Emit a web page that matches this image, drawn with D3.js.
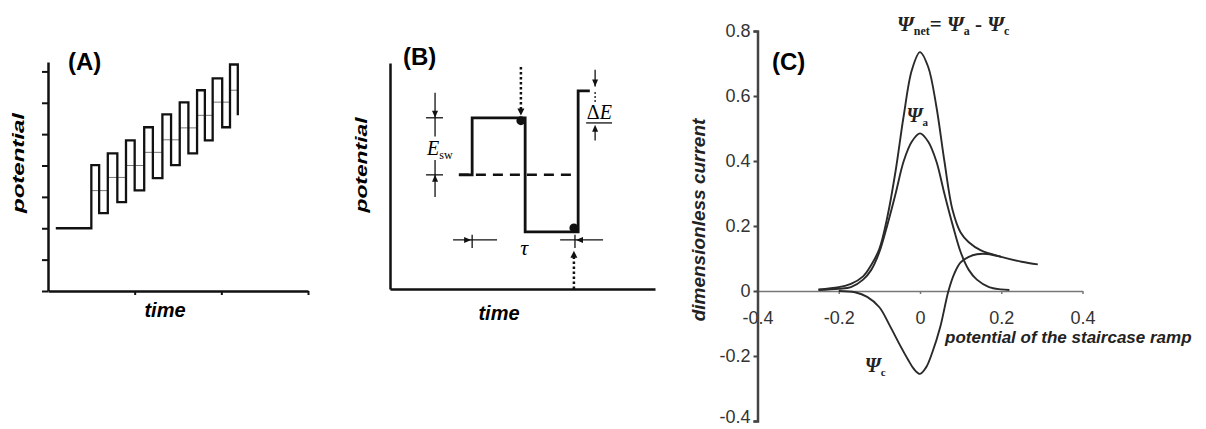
<!DOCTYPE html>
<html><head><meta charset="utf-8">
<script src="https://cdn.jsdelivr.net/npm/d3@7"></script>
<style>body{margin:0;background:#fff} svg{display:block}</style>
</head><body><svg id="c" width="1206" height="429"></svg>
<script>
// ---------------- Panel A data (time units, potential units)
const aTicksY = [0,1,2,3,4,5,6,7];
const aTicksX = [1,2,3];
const aStartTime = 0.09;
const aBaseLevel = 2;
const aRise   = [0.50, 0.69, 0.90, 1.11, 1.32, 1.52, 1.72, 1.90, 2.10];
const aFall   = [0.59, 0.80, 1.00, 1.21, 1.42, 1.62, 1.81, 2.01, 2.19];
const aTop    = [4.01, 4.39, 4.80, 5.22, 5.63, 6.01, 6.40, 6.78, 7.22];
const aBottom = [2.48, 2.83, 3.21, 3.60, 4.01, 4.39, 4.80, 5.22, 5.60];
const aStair  = [3.20, 3.62, 4.00, 4.42, 4.82, 5.20, 5.60, 6.02, 6.40];

// ---------------- Panel B data (time in half-periods, potential in Esw units)
const bTime = [1.30, 1.55, 1.55, 2.55, 2.55, 3.55, 3.55, 3.77];
const bPot  = [2, 2, 3, 3, 1, 1, 3.47, 3.47];
const bDashTime = [1.30, 3.55];
const bDashLevel = 2;
const bSampleTime = [2.47, 3.47];
const bSamplePot  = [2.95, 1.07];
const bArrowFrom  = [3.89, 0.0];
const bArrowTip   = [3.04, 0.67];

// ---------------- Panel C data
const cTicksY = [-0.4,-0.2,0,0.2,0.4,0.6,0.8];
const cTicksX = [-0.4,-0.2,0,0.2,0.4];
const netX = [-0.25,-0.2,-0.17,-0.14,-0.12,-0.1,-0.08,-0.06,-0.04,-0.02,0,0.02,0.04,0.06,0.08,0.1,0.12,0.15,0.2,0.25,0.29];
const netY = [0.005,0.012,0.022,0.045,0.08,0.13,0.23,0.37,0.54,0.68,0.735,0.69,0.57,0.40,0.25,0.18,0.15,0.125,0.105,0.09,0.082];
const psiAX = [-0.25,-0.2,-0.17,-0.14,-0.12,-0.1,-0.08,-0.06,-0.04,-0.02,0,0.02,0.04,0.06,0.08,0.1,0.12,0.14,0.17,0.2,0.22];
const psiAY = [0.003,0.007,0.012,0.035,0.065,0.12,0.205,0.3,0.4,0.46,0.485,0.46,0.4,0.3,0.205,0.12,0.065,0.035,0.012,0.005,0.003];
const psiCX = [-0.2,-0.16,-0.13,-0.1,-0.075,-0.05,-0.03,-0.015,0,0.015,0.03,0.05,0.07,0.085,0.1,0.12,0.14,0.165,0.2];
const psiCY = [0,-0.004,-0.018,-0.05,-0.105,-0.165,-0.21,-0.24,-0.255,-0.235,-0.19,-0.11,0,0.055,0.088,0.105,0.113,0.114,0.105];

const svg = d3.select("#c");
svg.append("rect").attr("width",1206).attr("height",429).attr("fill","#fff");
const SANS = "Liberation Sans, Arial, sans-serif";
const SERIF = "Liberation Serif, Times New Roman, serif";

function tri(g, x, y, dir, len=7, w=3){
  let p;
  if(dir==="down") p=[[x,y],[x-w,y-len],[x+w,y-len]];
  else if(dir==="up") p=[[x,y],[x-w,y+len],[x+w,y+len]];
  else if(dir==="right") p=[[x,y],[x-len,y-w],[x-len,y+w]];
  else p=[[x,y],[x+len,y-w],[x+len,y+w]];
  g.append("path").attr("d","M"+p.map(d=>d.join(",")).join("L")+"Z").attr("fill","#111");
}
function styleAxis(g, w, col){
  g.select(".domain").attr("stroke",col).attr("stroke-width",w);
  g.selectAll(".tick line").attr("stroke",col).attr("stroke-width",Math.max(1.5,w-0.5));
}

// ================= Panel A
const xA = d3.scaleLinear().domain([0,3]).range([48,308]);
const yA = d3.scaleLinear().domain([0,7.3]).range([291,62]);
const gA = svg.append("g");
const axAy = gA.append("g").attr("transform",`translate(${xA(0)},0)`)
  .call(d3.axisLeft(yA).tickValues(aTicksY).tickFormat("").tickSize(6).tickSizeOuter(0));
styleAxis(axAy, 2.5, "#111");
const axAx = gA.append("g").attr("transform",`translate(0,${yA(0)})`)
  .call(d3.axisBottom(xA).tickValues(aTicksX).tickFormat("").tickSize(4).tickSizeOuter(0));
styleAxis(axAx, 2.5, "#111");
aStair.forEach((lev,i)=>{
  const x2 = i<aStair.length-1 ? aRise[i+1] : aFall[i];
  gA.append("line").attr("x1",xA(aRise[i])).attr("x2",xA(x2))
    .attr("y1",yA(lev)).attr("y2",yA(lev)).attr("stroke","#777").attr("stroke-width",1);
});
const aPts = [[aStartTime,aBaseLevel],[aRise[0],aBaseLevel]];
aRise.forEach((r,i)=>{
  aPts.push([r,aTop[i]],[aFall[i],aTop[i]],[aFall[i],aBottom[i]]);
  if(i<aRise.length-1) aPts.push([aRise[i+1],aBottom[i]]);
});
gA.append("path").attr("d",d3.line().x(d=>xA(d[0])).y(d=>yA(d[1]))(aPts))
  .attr("fill","none").attr("stroke","#111").attr("stroke-width",2.3);
gA.append("text").attr("x",68).attr("y",70).attr("font-family",SANS).attr("font-weight","bold")
  .attr("font-size",24).text("(A)");
gA.append("text").attr("x",165).attr("y",317).attr("text-anchor","middle").attr("font-family",SANS)
  .attr("font-weight","bold").attr("font-style","italic").attr("font-size",20).text("time");
gA.append("text").attr("transform","translate(24,163) rotate(-90)").attr("text-anchor","middle")
  .attr("font-family",SANS).attr("font-weight","bold").attr("font-style","italic").attr("font-size",17)
  .attr("textLength",100).attr("lengthAdjust","spacingAndGlyphs").text("potential");

// ================= Panel B
const xB = d3.scaleLinear().domain([0,5]).range([390,655]);
const yB = d3.scaleLinear().domain([0,3.96]).range([289,63]);
const gB = svg.append("g");
const axBy = gB.append("g").attr("transform",`translate(${xB(0)},0)`)
  .call(d3.axisLeft(yB).tickValues([]).tickSizeOuter(0));
styleAxis(axBy, 2.5, "#111");
const axBx = gB.append("g").attr("transform",`translate(0,${yB(0)})`)
  .call(d3.axisBottom(xB).tickValues([]).tickSizeOuter(0));
styleAxis(axBx, 2.5, "#111");
gB.append("line").attr("x1",xB(bDashTime[0])).attr("x2",xB(bDashTime[1]))
  .attr("y1",yB(bDashLevel)).attr("y2",yB(bDashLevel))
  .attr("stroke","#111").attr("stroke-width",2.5).attr("stroke-dasharray","10,7");
gB.append("path").attr("d",d3.line().x((d,i)=>xB(bTime[i])).y((d,i)=>yB(bPot[i]))(bTime))
  .attr("fill","none").attr("stroke","#111").attr("stroke-width",2.8);
bSampleTime.forEach((t,i)=>{
  gB.append("circle").attr("cx",xB(t)).attr("cy",yB(bSamplePot[i])).attr("r",4.5).attr("fill","#111");
  gB.append("line").attr("x1",xB(t)).attr("x2",xB(t))
    .attr("y1",yB(bArrowFrom[i])).attr("y2",yB(bArrowTip[i]) + (bArrowFrom[i]>bArrowTip[i]?-6:6))
    .attr("stroke","#111").attr("stroke-width",2.5).attr("stroke-dasharray","2.5,2.5");
  tri(gB, xB(t), yB(bArrowTip[i]), bArrowFrom[i]>bArrowTip[i]?"down":"up", 7, 3.5);
});
const eswX = xB(0.85);
[3,2].forEach(l=>gB.append("line").attr("x1",xB(0.68)).attr("x2",xB(1.0)).attr("y1",yB(l)).attr("y2",yB(l))
  .attr("stroke","#111").attr("stroke-width",1.3));
gB.append("line").attr("x1",eswX).attr("x2",eswX).attr("y1",yB(3.44)).attr("y2",yB(2.67)).attr("stroke","#111").attr("stroke-width",1.3);
gB.append("line").attr("x1",eswX).attr("x2",eswX).attr("y1",yB(2.26)).attr("y2",yB(1.61)).attr("stroke","#111").attr("stroke-width",1.3);
tri(gB, eswX, yB(3), "down", 7, 3);
tri(gB, eswX, yB(2), "up", 7, 3);
const eswT = gB.append("text").attr("x",xB(0.70)).attr("y",yB(2.35)).attr("font-family",SERIF)
  .attr("font-style","italic").attr("font-size",20);
eswT.append("tspan").text("E");
eswT.append("tspan").attr("font-size",12).attr("dy",4).attr("font-style","normal").text("sw");
const dX = xB(3.87);
gB.append("line").attr("x1",dX).attr("x2",dX).attr("y1",yB(3.84)).attr("y2",yB(3.55)).attr("stroke","#111").attr("stroke-width",1.3);
tri(gB, dX, yB(3.55), "down", 7, 3);
gB.append("line").attr("x1",dX).attr("x2",dX).attr("y1",yB(3.45)).attr("y2",yB(3.25)).attr("stroke","#111").attr("stroke-width",1.3).attr("stroke-dasharray","2,2");
gB.append("line").attr("x1",xB(3.70)).attr("x2",xB(4.19)).attr("y1",yB(2.91)).attr("y2",yB(2.91)).attr("stroke","#111").attr("stroke-width",1.3);
tri(gB, dX, yB(2.88), "up", 7, 3);
gB.append("line").attr("x1",dX).attr("x2",dX).attr("y1",yB(2.8)).attr("y2",yB(2.6)).attr("stroke","#111").attr("stroke-width",1.3);
const dT = gB.append("text").attr("x",xB(3.95)).attr("y",yB(2.98)).attr("text-anchor","middle")
  .attr("font-family",SERIF).attr("font-size",20);
dT.append("tspan").text("Δ");
dT.append("tspan").attr("font-style","italic").text("E");
const tY = yB(0.86);
gB.append("line").attr("x1",xB(1.19)).attr("x2",xB(2.02)).attr("y1",tY).attr("y2",tY).attr("stroke","#111").attr("stroke-width",1.3);
gB.append("line").attr("x1",xB(3.21)).attr("x2",xB(4.02)).attr("y1",tY).attr("y2",tY).attr("stroke","#111").attr("stroke-width",1.3);
[1.55,3.49].forEach(t=>gB.append("line").attr("x1",xB(t)).attr("x2",xB(t)).attr("y1",yB(0.95)).attr("y2",yB(0.72)).attr("stroke","#111").attr("stroke-width",1.3));
tri(gB, xB(1.55)-1, tY, "right", 7, 3);
tri(gB, xB(3.49)+1, tY, "left", 7, 3);
gB.append("text").attr("x",xB(2.53)).attr("y",yB(0.6)).attr("text-anchor","middle")
  .attr("font-family",SERIF).attr("font-style","italic").attr("font-size",22).text("τ");
gB.append("text").attr("x",403).attr("y",65).attr("font-family",SANS).attr("font-weight","bold")
  .attr("font-size",24).text("(B)");
gB.append("text").attr("x",499).attr("y",320).attr("text-anchor","middle").attr("font-family",SANS)
  .attr("font-weight","bold").attr("font-style","italic").attr("font-size",20).text("time");
gB.append("text").attr("transform","translate(367,165) rotate(-90)").attr("text-anchor","middle")
  .attr("font-family",SANS).attr("font-weight","bold").attr("font-style","italic").attr("font-size",17)
  .attr("textLength",95).attr("lengthAdjust","spacingAndGlyphs").text("potential");

// ================= Panel C
const xC = d3.scaleLinear().domain([-0.4,0.4]).range([757.5,1082.5]);
const yC = d3.scaleLinear().domain([-0.4,0.8]).range([421,31]);
const gC = svg.append("g");
const fmt = d=> d===0 ? "0" : d.toFixed(1);
const axCx = gC.append("g").attr("transform",`translate(0,${yC(0)})`)
  .call(d3.axisBottom(xC).tickValues(cTicksX).tickFormat(fmt).tickSize(3).tickPadding(17).tickSizeOuter(0));
styleAxis(axCx, 1.5, "#777");
axCx.selectAll("text").attr("font-family",SANS).attr("font-size",18).attr("fill","#333");
const lineC = d3.line().x(d=>xC(d[0])).y(d=>yC(d[1])).curve(d3.curveCatmullRom.alpha(0.5));
[[netX,netY],[psiAX,psiAY],[psiCX,psiCY]].forEach(([X,Y])=>{
  gC.append("path").attr("d",lineC(X.map((x,i)=>[x,Y[i]])))
    .attr("fill","none").attr("stroke","#2a2a2a").attr("stroke-width",1.9);
});
const axCy = gC.append("g").attr("transform",`translate(${xC(-0.4)},0)`)
  .call(d3.axisLeft(yC).tickValues(cTicksY).tickFormat(fmt).tickSize(4).tickPadding(3).tickSizeOuter(4));
styleAxis(axCy, 2.5, "#444");
axCy.selectAll("text").attr("font-family",SANS).attr("font-size",18).attr("fill","#333")
  .attr("dy",d=> d===-0.4 ? "0.1em" : "0.32em");
gC.append("text").attr("x",772).attr("y",70).attr("font-family",SANS).attr("font-weight","bold")
  .attr("font-size",24).text("(C)");
gC.append("text").attr("transform","translate(705,220) rotate(-90)").attr("text-anchor","middle")
  .attr("font-family",SANS).attr("font-weight","bold").attr("font-style","italic").attr("font-size",19)
  .attr("fill","#222").text("dimensionless current");
gC.append("text").attr("x",945).attr("y",343).attr("font-family",SANS).attr("font-weight","bold")
  .attr("font-style","italic").attr("font-size",17).attr("fill","#222").text("potential of the staircase ramp");
function psi(x,y,sub){
  const t = gC.append("text").attr("x",x).attr("y",y).attr("font-family",SERIF)
    .attr("font-weight","bold").attr("font-size",20).attr("fill","#222");
  t.append("tspan").attr("font-style","italic").text("Ψ");
  t.append("tspan").attr("font-size",11).attr("dy",4).text(sub);
  return t;
}
const netLabel = gC.append("text").attr("x",897).attr("y",31).attr("font-family",SERIF)
  .attr("font-weight","bold").attr("font-size",21).attr("fill","#222");
netLabel.append("tspan").attr("font-style","italic").text("Ψ");
netLabel.append("tspan").attr("font-size",12).attr("dy",4).text("net");
netLabel.append("tspan").attr("dy",-4).text("= ");
netLabel.append("tspan").attr("font-style","italic").text("Ψ");
netLabel.append("tspan").attr("font-size",12).attr("dy",4).text("a");
netLabel.append("tspan").attr("dy",-4).text(" - ");
netLabel.append("tspan").attr("font-style","italic").text("Ψ");
netLabel.append("tspan").attr("font-size",12).attr("dy",4).text("c");
psi(xC(-0.033), yC(0.52), "a");
psi(xC(-0.136), yC(-0.25), "c");
</script></body></html>
